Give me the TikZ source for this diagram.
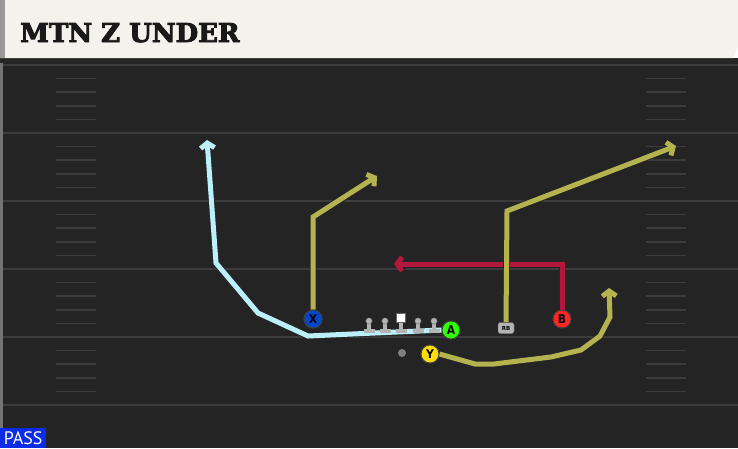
\documentclass[tikz,border=0pt]{standalone}
\usepackage{fontspec}
\setmainfont{DejaVu Sans}
\newfontfamily\slabfont{DejaVu Serif}[BoldFont={DejaVu Serif Bold}, BoldFeatures={FakeBold=3.5}]
\newfontfamily\tagfont{PT Sans}
\newfontfamily\letterfont{DejaVu Sans Condensed}
\usepackage{tikz}
\usetikzlibrary{arrows.meta}

\definecolor{fieldgray}{HTML}{242424}
\definecolor{yardgray}{HTML}{3C3C3C}
\definecolor{titlecream}{HTML}{F4F2EC}
\definecolor{routeolive}{HTML}{B4B34F}
\definecolor{routecyan}{HTML}{BBEFF9}
\definecolor{routered}{HTML}{B3173B}
\definecolor{passblue}{HTML}{0B2CE6}
\definecolor{olgray}{HTML}{B4B4B4}

\begin{document}
\begin{tikzpicture}[x=1pt, y=-1pt,
  route/.style={draw=#1, line width=5pt, -{Straight Barb[length=5pt,width=14pt]},
    preaction={draw=black!85, line width=6.8pt}},
  player/.style={circle, draw=black!75, line width=0.9pt, fill=#1, inner sep=0pt,
    minimum size=18pt, font=\letterfont\bfseries\fontsize{12}{12}\selectfont},
  back/.style={draw=black!75, fill=olgray, rounded corners=2pt, inner sep=0pt, minimum width=16pt,
    minimum height=11pt, font=\bfseries\fontsize{5.5}{5.5}\selectfont},
  hash/.style={draw=yardgray, line width=1.6pt}]
 \useasboundingbox (0,0) rectangle (738,448);
 % field
 \fill[fieldgray] (0,58) rectangle (738,448);
 \fill[black!85] (0,58) rectangle (738,63);
 \fill[black!55] (0,63) rectangle (3,448);
 \foreach \y in {65,133,201,269,337,405}
  \draw[draw=yardgray, line width=1.8pt] (3,\y) -- (738,\y);
 \foreach \y in {65,133,201,269,337}
  \foreach \k in {1,...,4} {
   \draw[hash] (56,\y+13.6*\k) -- (96,\y+13.6*\k);
   \draw[hash] (646,\y+13.6*\k) -- (686,\y+13.6*\k);
  }
 % title
 \fill[titlecream] (0,0) -- (738,0) -- (738,47) -- (733,58) -- (0,58) -- cycle;
 \fill[black!40] (0,0) rectangle (5,58);
 \node[anchor=base west, inner sep=0pt, text=black!90,
   font=\slabfont\bfseries\fontsize{26}{26}\selectfont] (title) at (20,42) {MTN Z UNDER};

 % players
 \node[player=blue!65!cyan!80!black] (X) at (313,319) {X};
 \node[player=green!75!lime] (A) at (451,330) {A};
 \node[player=yellow!80!orange] (Y) at (430,354) {Y};
 \node[player=red!85!white] (B) at (562,319) {B};
 \node[back] (RB) at (506,328) {RB};
 \node[circle, fill=black!50, inner sep=0pt, minimum size=8pt] (QB) at (402,353) {};
 \foreach \n/\x in {lt/369,lg/385,c/401,rg/418,rt/434}
  \coordinate (\n) at (\x,331);

 % routes
 \coordinate (a1) at (308,336);
 \coordinate (a2) at (258,313);
 \coordinate (a3) at (216,263);
 \coordinate (aend) at (207,140);
 \coordinate (x1) at (313,217);
 \coordinate (xend) at (377,176);
 \coordinate (r1) at (507,211);
 \coordinate (rend) at (676,146);
 \coordinate (b1) at (562,264);
 \coordinate (bend) at (394,264);
 \coordinate (y1) at (475,364);
 \coordinate (y2) at (494,364);
 \coordinate (y3) at (551,357);
 \coordinate (y4) at (581,350);
 \coordinate (y5) at (600,336);
 \coordinate (y6) at (610,317);
 \coordinate (yend) at (609,288);
 \draw[route=routecyan] (A.west) -- (a1) -- (a2) -- (a3) -- (aend);
 \draw[route=routeolive] (X.north) -- (x1) -- (xend);
 \draw[route=routered] (B.north) -- (b1) -- (bend);
 \draw[route=routeolive] (RB.north) -- (r1) -- (rend);
 \draw[route=routeolive] (Y.east) -- (y1) -- (y2) -- (y3) -- (y4) -- (y5) -- (y6) -- (yend);

 % line
 \foreach \n in {lt,lg,c,rg,rt} {
  \fill[olgray] ([xshift=-5.5pt,yshift=-2pt]\n) rectangle ([xshift=5.5pt,yshift=2.5pt]\n);
  \fill[olgray] ([xshift=-1.8pt]\n) rectangle ([xshift=1.8pt,yshift=10pt]\n);
 }
 \foreach \n in {lt,lg,rg,rt}
  \fill[olgray, draw=black!60, line width=0.4pt] ([yshift=10pt]\n) circle (3.2pt);
 \fill[white, draw=black!60, line width=0.4pt] ([xshift=-4.5pt,yshift=8.5pt]c) rectangle ([xshift=4.5pt,yshift=17.5pt]c);
 \node[player=blue!65!cyan!80!black] at (X) {X};
 \node[player=green!75!lime] at (A) {A};
 \node[player=yellow!80!orange] at (Y) {Y};
 \node[player=red!85!white] at (B) {B};
 \node[back] at (RB) {RB};

 % tag
 \node[fill=passblue, text=white, anchor=south west, inner sep=0pt, minimum width=46pt,
   minimum height=20pt, font=\tagfont\fontsize{18}{18}\selectfont] (pass) at (0,448) {PASS};
\end{tikzpicture}
\end{document}
